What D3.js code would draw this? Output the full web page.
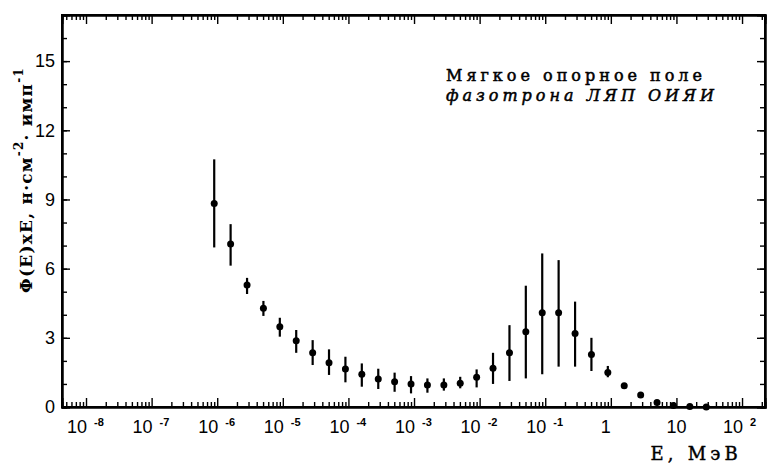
<!DOCTYPE html>
<html>
<head>
<meta charset="utf-8">
<script src="https://cdn.jsdelivr.net/npm/d3@7"></script>
<style>
  body { margin: 0; background: #fff; }
  svg { display: block; }
  .tick text { font-family: "Liberation Sans", Arial, sans-serif; }
</style>
</head>
<body>
<svg id="chart" width="768" height="465"></svg>
<script>
// energies, MeV (about 4 points per decade)
const energy = [
  9.0e-7, 1.6e-6, 2.85e-6, 5.06e-6, 9.0e-6, 1.6e-5, 2.85e-5, 5.06e-5,
  9.0e-5, 1.6e-4, 2.85e-4, 5.06e-4, 9.0e-4, 1.6e-3, 2.85e-3, 5.06e-3,
  9.0e-3, 1.6e-2, 2.85e-2, 5.06e-2, 9.0e-2, 0.16, 0.285, 0.506,
  0.9, 1.6, 2.85, 5.06, 9.0, 16, 28.5,
];
// Φ(E)xE values
const flux = [
  8.83, 7.07, 5.29, 4.28, 3.48, 2.87, 2.35, 1.92,
  1.65, 1.42, 1.21, 1.10, 1.00, 0.95, 0.95, 1.03,
  1.29, 1.68, 2.35, 3.26, 4.09, 4.09, 3.19, 2.28,
  1.50, 0.92, 0.52, 0.20, 0.06, 0.02, 0.0,
];
// error bar bounds (null = no bar drawn)
const errLow = [
  6.92, 6.13, 4.90, 3.95, 3.05, 2.35, 1.82, 1.39,
  1.07, 0.88, 0.78, 0.66, 0.59, 0.62, 0.71, 0.81,
  0.85, 1.00, 1.13, 1.24, 1.42, 1.75, 1.75, 1.56,
  1.29, null, null, null, null, null, null,
];
const errHigh = [
  10.74, 7.93, 5.60, 4.60, 3.87, 3.34, 2.90, 2.50,
  2.18, 1.89, 1.66, 1.49, 1.34, 1.24, 1.24, 1.31,
  1.63, 2.35, 3.55, 5.26, 6.66, 6.37, 4.57, 3.00,
  1.78, null, null, null, null, null, null,
];

const yMajor = [0, 3, 6, 9, 12, 15];
const yMinor = d3.range(0, 18, 1);
const decades = [-8, -7, -6, -5, -4, -3, -2, -1, 0, 1, 2];

const titleLines = ["Мягкое опорное поле", "фазотрона ЛЯП ОИЯИ"];
const xTitle = "E, МэВ";

const svg = d3.select("#chart"),
  margin = { top: 15, right: 3, bottom: 58, left: 62 },
  width = +svg.attr("width") - margin.left - margin.right,
  height = +svg.attr("height") - margin.top - margin.bottom;

const g = svg
  .append("g")
  .attr("transform", "translate(" + margin.left + "," + margin.top + ")");

const x = d3
  .scaleLog()
  .domain([Math.pow(10, -8.366), Math.pow(10, 2.35)])
  .range([0, width]);
const y = d3.scaleLinear().domain([0, 17]).range([height, 0]);

const majorX = decades.map((d) => Math.pow(10, d));
const minorX = [];
decades.concat([-9]).forEach((d) => {
  for (let m = 2; m <= 9; m++) {
    const v = m * Math.pow(10, d);
    if (v >= x.domain()[0] && v <= x.domain()[1]) minorX.push(v);
  }
});

function styleAxis(sel) {
  sel.select(".domain").attr("stroke", "#000").attr("stroke-width", 2);
  sel.selectAll(".tick line").attr("stroke", "#000").attr("stroke-width", 1.4);
}

// frame
g.append("rect")
  .attr("width", width)
  .attr("height", height)
  .attr("fill", "none")
  .attr("stroke", "#000")
  .attr("stroke-width", 2);

// bottom + top log axes
[
  [d3.axisBottom, height],
  [d3.axisTop, 0],
].forEach(([axisFn, ty]) => {
  g.append("g")
    .attr("transform", "translate(0," + ty + ")")
    .call(axisFn(x).tickValues(minorX).tickSize(-5).tickFormat(""))
    .call(styleAxis);
  g.append("g")
    .attr("transform", "translate(0," + ty + ")")
    .call(axisFn(x).tickValues(majorX).tickSize(-9).tickFormat(""))
    .call(styleAxis);
});

// left + right linear axes
[
  [d3.axisLeft, 0],
  [d3.axisRight, width],
].forEach(([axisFn, tx]) => {
  g.append("g")
    .attr("transform", "translate(" + tx + ",0)")
    .call(axisFn(y).tickValues(yMinor).tickSize(-5).tickFormat(""))
    .call(styleAxis);
  const ax = g
    .append("g")
    .attr("transform", "translate(" + tx + ",0)")
    .call(axisFn(y).tickValues(yMajor).tickSize(-8).tickPadding(7))
    .call(styleAxis);
  if (tx === 0) {
    ax.selectAll(".tick text")
      .attr("font-size", 18)
      .attr("fill", "#000");
  } else {
    ax.selectAll(".tick text").remove();
  }
});

// x tick labels: 10 with superscript exponent
const xLab = g
  .append("g")
  .attr("font-family", "Liberation Sans, Arial, sans-serif")
  .selectAll("g")
  .data(decades)
  .enter()
  .append("g")
  .attr("transform", (d) => "translate(" + x(Math.pow(10, d)) + "," + (height + 26) + ")");

xLab.each(function (d) {
  const sel = d3.select(this);
  if (d === 0) {
    sel.append("text").attr("x", -5).attr("text-anchor", "middle").attr("font-size", 18).text("1");
  } else if (d === 1) {
    sel.append("text").attr("text-anchor", "middle").attr("font-size", 18).text("10");
  } else {
    sel.append("text").attr("x", 1).attr("text-anchor", "end").attr("font-size", 18).text("10");
    sel.append("text")
      .attr("x", 8)
      .attr("y", -7)
      .attr("font-size", 11)
      .attr("font-weight", "bold")
      .text(d < 0 ? "-" + Math.abs(d) : d);
  }
});

// error bars
const pts = energy.map((e, i) => ({ e: e, v: flux[i], lo: errLow[i], hi: errHigh[i] }));

g.append("g")
  .selectAll("line")
  .data(pts.filter((d) => d.lo !== null))
  .enter()
  .append("line")
  .attr("x1", (d) => x(d.e))
  .attr("x2", (d) => x(d.e))
  .attr("y1", (d) => y(d.lo))
  .attr("y2", (d) => y(d.hi))
  .attr("stroke", "#000")
  .attr("stroke-width", 2.2);

g.append("g")
  .selectAll("circle")
  .data(pts)
  .enter()
  .append("circle")
  .attr("cx", (d) => x(d.e))
  .attr("cy", (d) => y(d.v))
  .attr("r", 3.5)
  .attr("fill", "#000");

// annotation, two separate lines
titleLines.forEach((t, i) => {
  svg
    .append("text")
    .attr("x", 446)
    .attr("y", 81 + i * 20)
    .attr("font-family", "DejaVu Serif, serif")
    .attr("font-size", 16)
    .attr("font-style", i === 1 ? "italic" : "normal")
    .attr("letter-spacing", 4)
    .attr("fill", "#000")
    .attr("stroke", "#000")
    .attr("stroke-width", 0.5)
    .text(t);
});

// x axis title
svg
  .append("text")
  .attr("x", 742)
  .attr("y", 460)
  .attr("text-anchor", "end")
  .attr("font-family", "DejaVu Serif, serif")
  .attr("font-size", 18)
  .attr("letter-spacing", 4.2)
  .attr("stroke", "#000")
  .attr("stroke-width", 0.4)
  .text(xTitle);

// y axis title
const yt = svg
  .append("text")
  .attr("transform", "translate(32,180) rotate(-90)")
  .attr("text-anchor", "middle")
  .attr("font-family", "DejaVu Serif, serif")
  .attr("font-size", 17)
  .attr("font-weight", "bold")
  .attr("letter-spacing", 1.2);
yt.append("tspan").text("Φ(E)xE,  н·см");
yt.append("tspan").attr("dy", -9).attr("font-size", 12).text("-2");
yt.append("tspan").attr("dy", 9).text("·  имп");
yt.append("tspan").attr("dy", -9).attr("font-size", 12).text("-1");
</script>
</body>
</html>
